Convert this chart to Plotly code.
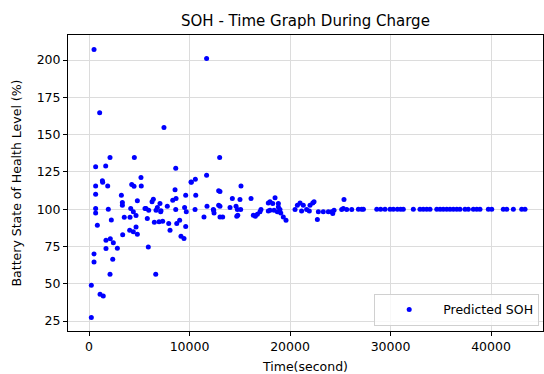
import plotly.graph_objects as go

# Time (s) and predicted SOH (%)
time_s = [
    500, 11700, 1060, 7460, 2090, 4510, 13000, 660, 1660, 8630,
    5170, 10580, 11700, 1330, 1860, 660, 660, 4250, 4480, 5200,
    8560, 10150, 12900, 3220, 3320, 3320, 4810, 6400, 6270, 7060,
    8330, 8660, 9620, 10620, 660, 660, 1920, 4150, 4410, 5670,
    5940, 6670, 6800, 7160, 7790, 8630, 9510, 9680, 10550, 11740,
    12400, 12900, 13030, 830, 2220, 3510, 4080, 4680, 5800, 6500,
    6970, 7330, 7930, 8730, 9020, 9620, 11440, 4680, 4050, 4410,
    4810, 3350, 8060, 9150, 9450, 1690, 2120, 2420, 1690, 2820,
    5900, 500, 500, 2360, 2090, 6640, 230, 1100, 1420, 230,
    13030, 14260, 15020, 15120, 16120, 12370, 12440, 13030, 14030, 14630,
    14760, 14800, 14700, 15090, 13300, 16350, 16550, 16750, 17010, 17110,
    17840, 17840, 18510, 18010, 18280, 18840, 18010, 18410, 18840, 19000,
    18740, 19080, 19330, 19600, 20500, 20730, 21000, 21320, 21150, 21650,
    21990, 22260, 22390, 21920, 22720, 22820, 23310, 23810, 24140, 24380,
    24250, 25370, 25140, 25640, 26140, 26800, 27300, 27130, 28630, 29020,
    29450, 29950, 30280, 30680, 31010, 31270, 32270, 32930, 33260, 33600,
    33930, 34600, 34930, 35250, 35590, 35920, 36250, 36590, 36910, 37410,
    37740, 38240, 38580, 38900, 39730, 40070, 41220, 41560, 42220, 43050,
    43380, 5570, 7130, 10180, 1360, 25300,
]
soh_pct = [
    207, 201, 164.6, 154.8, 134.7, 134.7, 134.7, 128.4, 129, 127.5,
    121.3, 120, 122.8, 119, 115.6, 115.6, 110, 116.6, 115.4, 115.6,
    113, 118.3, 112.3, 109.4, 104.5, 102.7, 105.6, 106.7, 104.9, 103.8,
    106, 107.2, 109.4, 109.4, 100.5, 97.5, 100, 100.5, 98.2, 100.5,
    99.3, 99.3, 101.1, 98.9, 102, 99.8, 101.1, 98.2, 99.8, 102,
    99.3, 102.7, 94.8, 89.3, 92.8, 94.6, 94.6, 95.8, 93.8, 91.3,
    91.5, 91.9, 90.4, 90.4, 92.6, 88.4, 94.8, 88.1, 85.9, 84.8,
    83.2, 82.8, 85.9, 81.9, 80.3, 79.2, 80.1, 77.4, 73.6, 73.8,
    74.7, 70, 64.6, 66.4, 56.4, 56.4, 49, 43, 41.8, 27.3,
    111.9, 107.2, 106.5, 115.6, 107.2, 99.8, 97.5, 102, 101.1, 102,
    99.8, 96, 95.3, 99.8, 94.8, 96, 95.3, 96.6, 98.2, 99.8,
    104.2, 98.7, 107.6, 104.9, 103.8, 103.8, 99.3, 99.3, 101.5, 99.8,
    98.2, 97.5, 94.8, 92.6, 99.8, 102.7, 104.2, 102.7, 98.7, 99.8,
    102.7, 104.2, 104.9, 98.7, 93, 98.2, 98.2, 98.2, 98.2, 99.3,
    97.1, 106.5, 99.8, 99.8, 99.8, 100, 100, 100, 100, 100,
    100, 100, 100, 100, 100, 100, 100, 100, 100, 100,
    100, 100, 100, 100, 100, 100, 100, 100, 100, 100,
    100, 100, 100, 100, 100, 100, 100, 100, 100, 100,
    100, 100.5, 98.2, 118, 118, 100.5,
]

x_ticks = [0, 10000, 20000, 30000, 40000]
x_tick_labels = ["0", "10000", "20000", "30000", "40000"]
y_ticks = [25, 50, 75, 100, 125, 150, 175, 200]

FONT = "DejaVu Sans"

fig = go.Figure()
fig.add_trace(go.Scatter(
    x=time_s, y=soh_pct, mode="markers", name="Predicted SOH",
    marker=dict(color="#0000ff", size=5, line=dict(width=0)),
))

axis_common = dict(
    showline=True, linecolor="black", linewidth=1, mirror=True,
    ticks="outside", ticklen=4, tickwidth=1, tickcolor="black",
    showgrid=True, gridcolor="#dcdcdc", gridwidth=1, zeroline=False,
    tickfont=dict(family=FONT, size=12.5, color="black"),
)

fig.update_layout(
    width=544, height=374,
    margin=dict(l=68, r=1, t=35, b=43),
    paper_bgcolor="white", plot_bgcolor="white",
    font=dict(family=FONT, color="black"),
    title=dict(text="SOH - Time Graph During Charge", x=0.5615, xanchor="center",
               y=0.945, yanchor="middle", font=dict(family=FONT, size=15, color="black")),
    xaxis=dict(range=[-2090, 45170], tickvals=x_ticks, ticktext=x_tick_labels,
               title=dict(text="Time(second)", font=dict(family=FONT, size=12.5), standoff=9),
               **axis_common),
    yaxis=dict(range=[18.3, 216.8], tickvals=y_ticks,
               title=dict(text="Battery State of Health Level (%)", font=dict(family=FONT, size=12.5), standoff=12),
               **axis_common),
    showlegend=True,
    legend=dict(x=0.992, y=0.017, xanchor="right", yanchor="bottom",
                bgcolor="rgba(255,255,255,0.8)", bordercolor="#d0d0d0", borderwidth=1,
                itemwidth=58,
                font=dict(family=FONT, size=12.5, color="black")),
)

fig.write_html("out.html")
